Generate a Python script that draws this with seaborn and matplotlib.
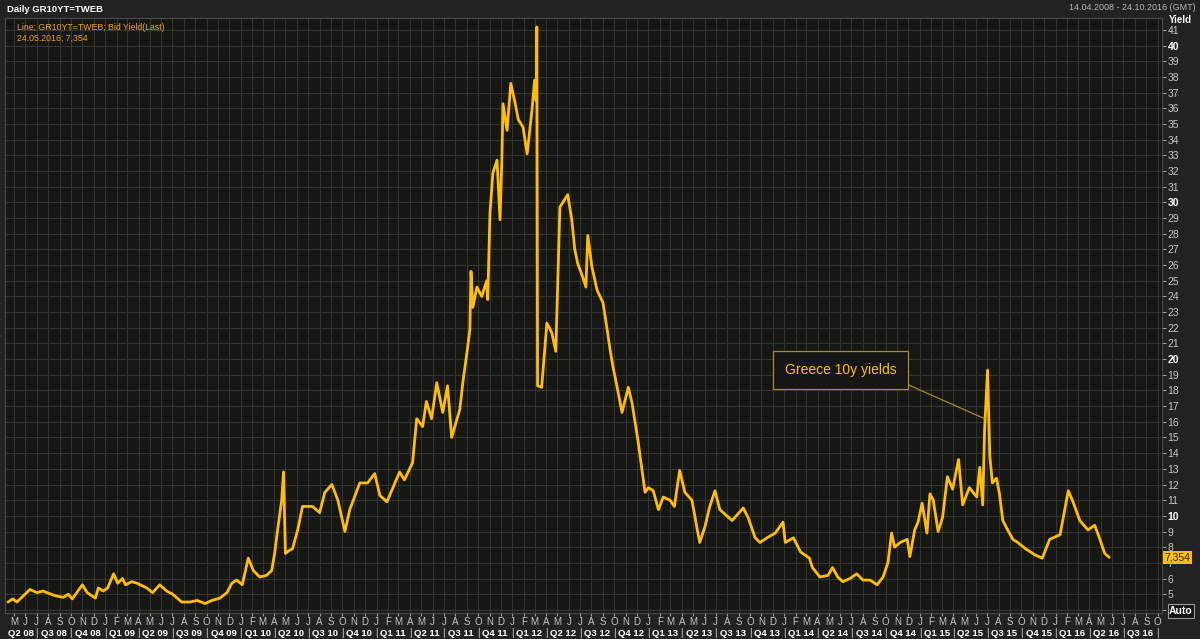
import matplotlib
matplotlib.use("Agg")
import matplotlib.dates as mdates
import matplotlib.pyplot as plt
import matplotlib.transforms as mtransforms
import pandas as pd
import seaborn as sns


# daily GR10YT=TWEB bid yield (key turning points)
DATES = [
    "2008-04-15", "2008-04-28", "2008-05-09", "2008-06-13", "2008-07-02", "2008-07-18",
    "2008-08-20", "2008-09-11", "2008-09-24", "2008-10-05", "2008-11-01", "2008-11-14",
    "2008-12-06", "2008-12-14", "2008-12-27", "2009-01-08", "2009-01-24", "2009-02-04",
    "2009-02-17", "2009-02-25", "2009-03-14", "2009-03-28", "2009-04-23", "2009-05-09",
    "2009-05-28", "2009-06-16", "2009-07-02", "2009-07-26", "2009-08-17", "2009-09-06",
    "2009-09-27", "2009-10-15", "2009-11-06", "2009-11-25", "2009-12-08", "2009-12-21",
    "2010-01-05", "2010-01-21", "2010-02-04", "2010-02-21", "2010-03-11", "2010-03-25",
    "2010-04-02", "2010-04-10", "2010-04-21", "2010-04-26", "2010-05-01", "2010-05-12",
    "2010-05-20", "2010-06-03", "2010-06-16", "2010-07-13", "2010-08-01", "2010-08-15",
    "2010-09-03", "2010-09-19", "2010-10-08", "2010-10-21", "2010-11-17", "2010-12-08",
    "2010-12-27", "2011-01-10", "2011-01-29", "2011-02-14", "2011-03-04", "2011-03-17",
    "2011-04-08", "2011-04-19", "2011-05-05", "2011-05-15", "2011-05-29", "2011-06-12",
    "2011-06-28", "2011-07-11", "2011-07-22", "2011-08-13", "2011-08-21", "2011-09-01",
    "2011-09-09", "2011-09-12", "2011-09-17", "2011-09-28", "2011-10-11", "2011-10-24",
    "2011-10-27", "2011-11-02", "2011-11-10", "2011-11-21", "2011-11-29", "2011-12-04",
    "2011-12-07", "2011-12-18", "2011-12-28", "2012-01-09", "2012-01-17", "2012-01-30",
    "2012-02-10", "2012-02-23", "2012-03-01", "2012-03-05", "2012-03-07", "2012-03-09",
    "2012-03-20", "2012-04-03", "2012-04-16", "2012-04-27", "2012-05-08", "2012-05-21",
    "2012-05-29", "2012-06-09", "2012-06-17", "2012-06-25", "2012-07-09", "2012-07-17",
    "2012-07-22", "2012-08-02", "2012-08-16", "2012-09-01", "2012-09-12", "2012-09-20",
    "2012-09-28", "2012-10-09", "2012-10-22", "2012-11-08", "2012-11-18", "2012-12-04",
    "2012-12-15", "2012-12-23", "2013-01-01", "2013-01-14", "2013-01-28", "2013-02-10",
    "2013-02-28", "2013-03-12", "2013-03-26", "2013-04-09", "2013-04-28", "2013-05-11",
    "2013-05-19", "2013-06-02", "2013-06-15", "2013-06-29", "2013-07-12", "2013-08-14",
    "2013-09-13", "2013-09-26", "2013-10-15", "2013-10-28", "2013-11-16", "2013-12-08",
    "2013-12-29", "2014-01-04", "2014-01-26", "2014-02-14", "2014-03-10", "2014-03-18",
    "2014-04-07", "2014-04-29", "2014-05-11", "2014-05-25", "2014-06-08", "2014-06-27",
    "2014-07-15", "2014-08-01", "2014-08-20", "2014-09-08", "2014-09-24", "2014-10-07",
    "2014-10-17", "2014-10-25", "2014-11-09", "2014-11-28", "2014-12-05", "2014-12-18",
    "2014-12-27", "2015-01-07", "2015-01-20", "2015-01-28", "2015-02-06", "2015-02-19",
    "2015-03-03", "2015-03-16", "2015-03-30", "2015-04-15", "2015-04-26", "2015-05-14",
    "2015-06-03", "2015-06-11", "2015-06-19", "2015-06-24", "2015-07-02", "2015-07-08",
    "2015-07-15", "2015-07-26", "2015-08-03", "2015-08-12", "2015-08-25", "2015-09-08",
    "2015-09-21", "2015-10-12", "2015-11-07", "2015-11-26", "2015-12-16", "2016-01-13",
    "2016-02-04", "2016-02-15", "2016-03-06", "2016-03-28", "2016-04-15", "2016-04-29",
    "2016-05-12", "2016-05-24",
]
YIELDS = [
    4.5, 4.7, 4.5, 5.3, 5.1, 5.2,
    4.9, 4.8, 5.0, 4.7, 5.6, 5.1,
    4.75, 5.4, 5.2, 5.4, 6.3, 5.7,
    6.0, 5.6, 5.8, 5.7, 5.4, 5.1,
    5.6, 5.2, 5.0, 4.5, 4.5, 4.6,
    4.4, 4.6, 4.75, 5.1, 5.7, 5.9,
    5.6, 7.3, 6.5, 6.1, 6.2, 6.5,
    7.6, 9.1, 11.0, 12.8, 7.6, 7.8,
    7.9, 9.1, 10.6, 10.6, 10.2, 11.5,
    12.0, 11.0, 9.0, 10.4, 12.1, 12.1,
    12.7, 11.3, 10.9, 11.8, 12.8, 12.3,
    13.4, 16.2, 15.7, 17.3, 16.2, 18.5,
    16.6, 18.3, 15.0, 16.8, 18.5, 20.4,
    21.9, 25.6, 23.3, 24.6, 24.0, 25.0,
    23.8, 29.3, 31.9, 32.7, 28.9, 32.7,
    36.3, 34.6, 37.6, 36.3, 35.3, 34.8,
    33.1, 35.9, 37.8, 36.5, 41.2, 18.3,
    18.2, 22.3, 21.7, 20.5, 29.7, 30.2,
    30.5, 28.9, 27.0, 26.1, 25.2, 24.6,
    27.9, 25.9, 24.4, 23.6, 21.9, 20.6,
    19.5, 18.2, 16.6, 18.2, 17.2, 14.8,
    12.9, 11.5, 11.8, 11.6, 10.4, 11.2,
    11.0, 10.6, 12.9, 11.5, 11.0, 9.3,
    8.3, 9.3, 10.6, 11.6, 10.4, 9.7,
    10.5, 9.9, 8.6, 8.3, 8.6, 8.9,
    9.6, 8.3, 8.6, 7.7, 7.3, 6.7,
    6.1, 6.2, 6.7, 6.1, 5.8, 6.0,
    6.3, 5.9, 5.9, 5.6, 6.1, 7.0,
    8.9, 8.0, 8.3, 8.5, 7.4, 9.1,
    9.6, 10.8, 8.9, 11.4, 11.0, 9.0,
    9.9, 12.5, 11.7, 13.6, 10.7, 11.8,
    11.2, 13.1, 10.7, 15.5, 19.3, 13.8,
    12.1, 12.4, 11.4, 9.7, 9.1, 8.5,
    8.3, 7.9, 7.5, 7.3, 8.5, 8.8,
    11.6, 11.0, 9.7, 9.1, 9.4, 8.5,
    7.6, 7.354,
]
LAST_LABEL = "24.05.2016; 7,354"
LAST_VALUE_TEXT = "7,354"
NOTE_TEXT = "Greece 10y yields"
NOTE_TARGET = ("2015-06-24", 16.2)
NOTE_POS = ("2014-06-02", 19.3)

BG = "#161714"
FRAME = "#222222"
GRID = "#33362f"
LINE = "#ffbf00"
ORANGE = "#eea21a"
TICK_TEXT = "#c8c8c8"


def main() -> None:
    sns.set_theme(style="dark")
    plt.rcParams["font.family"] = ["Liberation Sans", "DejaVu Sans"]

    df = pd.DataFrame({"date": pd.to_datetime(DATES), "yield": YIELDS})

    fig = plt.figure(figsize=(12, 6.39), dpi=100, facecolor=FRAME)
    ax = fig.add_axes([5 / 1200, 1 - 613 / 639, 1157 / 1200, 595 / 639])
    ax.set_facecolor(BG)

    sns.lineplot(data=df, x="date", y="yield", ax=ax, color=LINE, linewidth=2.0, zorder=5)

    x0, x1 = pd.Timestamp("2008-04-07"), pd.Timestamp("2016-10-13")
    ax.set_xlim(x0, x1)
    ax.set_ylim(3.8, 41.77)
    ax.set_xlabel("")
    ax.set_ylabel("")

    # y axis on the right, one tick per unit, tens in bold
    ax.yaxis.tick_right()
    yticks = list(range(4, 42))
    ax.set_yticks(yticks, labels=["" if v == 4 else str(v) for v in yticks])
    for lbl in ax.get_yticklabels():
        lbl.set_color(TICK_TEXT)
        if lbl.get_text() in ("10", "20", "30", "40"):
            lbl.set_fontweight("bold")
            lbl.set_color("white")
    ax.tick_params(axis="y", right=True, length=3, width=0.8, color="#9a9a9a",
                   labelsize=7.5, pad=1)

    # month letters along the bottom
    ax.xaxis.set_major_locator(mdates.MonthLocator())
    ax.xaxis.set_major_formatter(
        plt.FuncFormatter(lambda x, pos: mdates.num2date(x).strftime("%b")[0]))
    ax.tick_params(axis="x", bottom=True, length=2, width=0.8, color="#9a9a9a",
                   labelsize=7, labelcolor=TICK_TEXT, pad=1)

    ax.grid(True, color=GRID, linewidth=0.8)
    for side in ("top", "right", "bottom", "left"):
        ax.spines[side].set_visible(True)
        ax.spines[side].set_color("#4a4a4a")
        ax.spines[side].set_linewidth(0.8)

    # quarter labels
    trans = mtransforms.blended_transform_factory(ax.transData, ax.transAxes)
    qstarts = pd.date_range("2008-04-01", "2016-10-01", freq="QS")
    for qs in qstarts[:-1]:
        qe = qs + pd.offsets.QuarterBegin(startingMonth=1)
        mid = max(qs, x0) + (qe - max(qs, x0)) / 2
        ax.text(mid, -0.034, f"Q{qs.quarter} {qs.strftime('%y')}", transform=trans,
                ha="center", va="center", fontsize=6.8, fontweight="bold",
                color="white", clip_on=False)
        ax.text(qe, -0.034, "|", transform=trans, ha="center", va="center",
                fontsize=7, color="#dddddd", clip_on=False)

    # header texts
    fig.text(7 / 1200, 1 - 9 / 639, "Daily GR10YT=TWEB", ha="left", va="center",
             fontsize=6.8, fontweight="bold", color="white")
    fig.text(1196 / 1200, 1 - 8 / 639, "14.04.2008 - 24.10.2016 (GMT)", ha="right",
             va="center", fontsize=6.5, color="#b8b8b8")
    fig.text(1180 / 1200, 1 - 20 / 639, "Yield", ha="center", va="center",
             fontsize=7, fontweight="bold", color="white")
    ax.text(0.0105, 1 - 9 / 595, "Line; GR10YT=TWEB; Bid Yield(Last)", transform=ax.transAxes,
            ha="left", va="center", fontsize=6.3, color=ORANGE)
    ax.text(0.0105, 1 - 20 / 595, LAST_LABEL, transform=ax.transAxes,
            ha="left", va="center", fontsize=6.3, color=ORANGE)

    # last value tag on the y axis
    ytrans = mtransforms.blended_transform_factory(ax.transAxes, ax.transData)
    ax.text(1.002, YIELDS[-1], LAST_VALUE_TEXT, transform=ytrans, ha="left", va="center",
            fontsize=7.5, color="#2a2000", clip_on=False, zorder=10,
            bbox=dict(boxstyle="square,pad=0.15", facecolor=LINE, edgecolor="none"))

    fig.text(1181 / 1200, 1 - 611 / 639, "Auto", ha="center", va="center",
             fontsize=7.5, fontweight="bold", color="white",
             bbox=dict(boxstyle="square,pad=0.15", facecolor=BG, edgecolor="#9a9a9a",
                       linewidth=0.8))

    # callout
    ax.annotate(NOTE_TEXT, xy=(pd.Timestamp(NOTE_TARGET[0]), NOTE_TARGET[1]),
                xytext=(pd.Timestamp(NOTE_POS[0]), NOTE_POS[1]),
                ha="center", va="center", fontsize=10, color=LINE, zorder=6,
                bbox=dict(boxstyle="square,pad=0.85", facecolor=BG, edgecolor="#a88a30",
                          linewidth=0.9),
                arrowprops=dict(arrowstyle="-", color="#a88a30", linewidth=0.9,
                                relpos=(0.95, 0.0), shrinkA=0, shrinkB=0))

    fig.savefig("out.png", dpi=100, facecolor=fig.get_facecolor())
    plt.close(fig)


if __name__ == "__main__":
    main()
